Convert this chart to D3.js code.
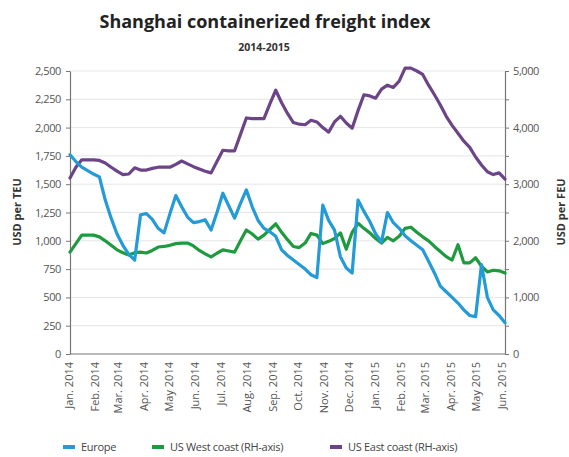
<!DOCTYPE html>
<html>
<head>
<meta charset="utf-8">
<script src="https://cdn.jsdelivr.net/npm/d3@7"></script>
<style>
  html, body { margin: 0; padding: 0; background: #fff; }
  svg { display: block; }
  text { font-family: "Open Sans", "Noto Sans", sans-serif; }
</style>
</head>
<body>
<svg id="chart" width="569" height="457"></svg>
<script>
// ---------------- DATA ----------------
const title = "Shanghai containerized freight index";
const subtitle = "2014-2015";
const firstWeek = "2014-01-03";
const weekCount = 75;

// USD per TEU (left axis)
const europe = [1760,1700,1650,1620,1590,1565,1360,1200,1060,960,880,830,1230,1240,1190,1110,1070,1240,1400,1300,
  1210,1160,1170,1185,1095,1250,1420,1310,1200,1330,1450,1300,1180,1110,1080,1040,920,870,830,790,
  750,700,675,1315,1180,1095,860,760,716,1360,1260,1170,1060,990,1250,1160,1110,1045,1000,960,
  920,820,716,600,550,500,450,390,340,330,790,500,390,340,275];
// USD per FEU (right axis)
const usWest = [1800,1950,2100,2100,2100,2070,2000,1920,1840,1790,1750,1790,1800,1785,1830,1890,1900,1920,1950,1960,
  1960,1910,1830,1770,1715,1780,1840,1820,1800,2000,2190,2120,2030,2100,2200,2300,2150,2020,1900,1880,
  1960,2130,2100,1950,1990,2040,2140,1850,2150,2310,2220,2140,2040,1960,2060,2000,2080,2220,2240,2150,
  2070,2000,1900,1810,1720,1660,1930,1610,1610,1700,1550,1450,1480,1470,1430];
const usEast = [3110,3300,3430,3430,3430,3420,3375,3300,3230,3170,3180,3290,3250,3250,3280,3300,3300,3300,3350,3410,
  3360,3310,3270,3230,3200,3400,3600,3590,3590,3880,4170,4160,4160,4160,4420,4660,4440,4250,4090,4060,
  4050,4130,4100,4000,3920,4100,4200,4080,3990,4300,4580,4560,4520,4680,4750,4710,4820,5050,5050,5000,
  4940,4750,4580,4400,4200,4040,3900,3760,3650,3480,3340,3220,3170,3200,3090];

const monthLabels = ["Jan. 2014","Feb. 2014","Mar. 2014","Apr. 2014","May 2014","Jun. 2014","Jul. 2014","Aug. 2014",
  "Sep. 2014","Oct. 2014","Nov. 2014","Dec. 2014","Jan. 2015","Feb. 2015","Mar. 2015","Apr. 2015","May 2015","Jun. 2015"];
const leftTicks = [0,250,500,750,1000,1250,1500,1750,2000,2250,2500];
const rightTicks = [0,500,1000,1500,2000,2500,3000,3500,4000,4500,5000];
const seriesNames = ["Europe","US West coast (RH-axis)","US East coast (RH-axis)"];
const seriesColors = ["#229bd6","#1f9a3e","#6b4588"];

// ---------------- CHART ----------------
const svg = d3.select("#chart");
const m = {left: 70, right: 505, top: 71, bottom: 354};

const start = d3.utcParse("%Y-%m-%d")(firstWeek);
const weeks = d3.range(weekCount).map(i => d3.utcDay.offset(start, 7 * i));

const x = d3.scaleUtc().domain([weeks[0], weeks[weeks.length - 1]]).range([m.left, m.right]);
const yL = d3.scaleLinear().domain([0, 2500]).range([m.bottom, m.top]);
const yR = d3.scaleLinear().domain([0, 5000]).range([m.bottom, m.top]);

// title
svg.append("text").attr("x", 265).attr("y", 28).attr("text-anchor", "middle")
  .attr("font-size", 18).attr("font-weight", "bold").attr("fill", "#222").text(title);
svg.append("text").attr("x", 264).attr("y", 51).attr("text-anchor", "middle")
  .attr("font-size", 10.5).attr("font-weight", "bold").attr("fill", "#333").text(subtitle);

// gridlines
svg.append("g").selectAll("line").data(leftTicks.filter(d => d > 0)).join("line")
  .attr("x1", m.left).attr("x2", m.right)
  .attr("y1", d => yL(d)).attr("y2", d => yL(d))
  .attr("stroke", "#e6e6e6").attr("stroke-width", 1);

// left axis
const gL = svg.append("g").attr("transform", `translate(${m.left},0)`)
  .call(d3.axisLeft(yL).tickValues(leftTicks).tickFormat(d3.format(",")).tickSize(4).tickPadding(5).tickSizeOuter(0));
// right axis
const gR = svg.append("g").attr("transform", `translate(${m.right},0)`)
  .call(d3.axisRight(yR).tickValues(rightTicks).tickFormat(d => d % 1000 === 0 ? d3.format(",")(d) : "")
    .tickSize(4).tickPadding(4).tickSizeOuter(0));
[gL, gR].forEach(g => {
  g.select(".domain").attr("stroke", "#777").attr("stroke-width", 1.2);
  g.selectAll(".tick line").attr("stroke", "#777");
  g.selectAll(".tick text").attr("font-size", 11).attr("fill", "#555")
    .attr("font-family", "'Open Sans', sans-serif").attr("letter-spacing", "-0.4");
});

// bottom axis
const monthTicks = d3.utcMonth.range(d3.utcParse("%Y-%m-%d")("2014-01-01"), d3.utcParse("%Y-%m-%d")("2015-06-02"));
const gB = svg.append("g").attr("transform", `translate(0,${m.bottom})`)
  .call(d3.axisBottom(x).tickValues(monthTicks).tickFormat((d, i) => monthLabels[i]).tickSize(0).tickSizeOuter(0));
gB.select(".domain").attr("d", `M${m.left},0H${m.right}`).attr("stroke", "#777").attr("stroke-width", 1.2);
gB.selectAll(".tick text")
  .attr("font-size", 11).attr("fill", "#555")
  .attr("font-family", "'Open Sans', sans-serif")
  .attr("text-anchor", "end")
  .attr("transform", "rotate(-90)")
  .attr("x", -8).attr("y", 0).attr("dy", "0.35em");

// axis titles
svg.append("text").attr("transform", `translate(21,212) rotate(-90)`).attr("text-anchor", "middle")
  .attr("font-size", 11).attr("font-weight", "bold").attr("fill", "#333").text("USD per TEU");
svg.append("text").attr("transform", `translate(565,212) rotate(-90)`).attr("text-anchor", "middle")
  .attr("font-size", 11).attr("font-weight", "bold").attr("fill", "#333").text("USD per FEU");

// lines
const series = [
  {vals: europe, y: yL},
  {vals: usWest, y: yR},
  {vals: usEast, y: yR}
];
const order = [2, 1, 0];
order.forEach(k => {
  const s = series[k];
  const line = d3.line().x((d, i) => x(weeks[i])).y(d => s.y(d)).curve(d3.curveLinear);
  svg.append("path").datum(s.vals).attr("d", line)
    .attr("fill", "none").attr("stroke", seriesColors[k]).attr("stroke-width", 3.2)
    .attr("stroke-linejoin", "round").attr("stroke-linecap", "round");
});

// legend
const legendX = [63, 152, 330];
const lg = svg.append("g");
seriesNames.forEach((n, k) => {
  lg.append("line").attr("x1", legendX[k]).attr("x2", legendX[k] + 12).attr("y1", 447).attr("y2", 447)
    .attr("stroke", seriesColors[k]).attr("stroke-width", 4);
  lg.append("text").attr("x", legendX[k] + 18).attr("y", 451).attr("font-size", 11).attr("fill", "#444")
    .attr("letter-spacing", "-0.3").text(n);
});
</script>
</body>
</html>
